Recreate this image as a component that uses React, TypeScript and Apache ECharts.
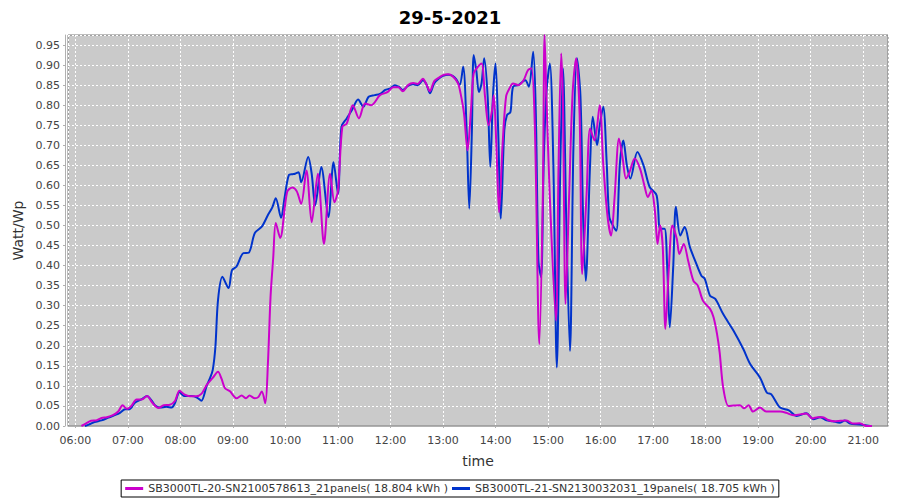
import React, { useEffect, useRef } from "react";
import * as echarts from "echarts";

const chartTitle = "29-5-2021";
const seriesNames = [
  "SB3000TL-20-SN2100578613_21panels( 18.804 kWh )",
  "SB3000TL-21-SN2130032031_19panels( 18.705 kWh )",
];
const seriesColors = ["#CC00CC", "#0033CC"];

const magentaTimes = [
  "06:07","06:12","06:18","06:24","06:30","06:36","06:43","06:49","06:54","06:59",
  "07:04","07:10","07:16","07:22","07:28","07:35","07:41","07:48","07:54","07:59",
  "08:05","08:11","08:18","08:24","08:30","08:37","08:43","08:47","08:51","08:57",
  "09:00","09:04","09:10","09:15","09:19","09:25","09:29","09:33","09:37","09:40",
  "09:43","09:46","09:49","09:54","10:02","10:08","10:13","10:18","10:24","10:30",
  "10:37","10:44","10:51","10:56","11:00","11:05","11:10","11:17","11:24","11:31",
  "11:38","11:48","11:57","12:03","12:09","12:14","12:20","12:26","12:31","12:37",
  "12:41","12:45","12:50","12:55","13:00","13:06","13:11","13:17","13:20","13:24",
  "13:28","13:32","13:35","13:40","13:44","13:48","13:52","13:56","13:58","14:01",
  "14:04","14:08","14:12","14:16","14:20","14:26","14:32","14:37","14:41","14:45",
  "14:50","14:54","14:56","14:58","15:02","15:09","15:12","15:15","15:17","15:20",
  "15:24","15:28","15:32","15:36","15:39","15:44","15:48","15:53","15:59","16:03",
  "16:08","16:12","16:16","16:21","16:25","16:29","16:33","16:39","16:45","16:50",
  "16:54","16:58","17:02","17:05","17:08","17:11","17:14","17:18","17:22","17:27",
  "17:30","17:35","17:40","17:46","17:51","17:57","18:05","18:09","18:13","18:16",
  "18:20","18:26","18:32","18:39","18:44","18:49","18:54","19:02","19:09","19:17",
  "19:25","19:32","19:40","19:48","19:55","20:02","20:08","20:14","20:20","20:26",
  "20:34","20:41","20:48","20:56","21:04","21:10",
];
const magentaValues = [
  0.000,0.006,0.013,0.014,0.020,0.022,0.027,0.036,0.052,0.043,
  0.050,0.066,0.066,0.075,0.058,0.045,0.052,0.053,0.063,0.088,
  0.078,0.074,0.074,0.080,0.102,0.120,0.135,0.118,0.094,0.086,
  0.077,0.069,0.076,0.069,0.076,0.069,0.072,0.086,0.057,0.156,
  0.322,0.417,0.506,0.469,0.584,0.595,0.585,0.554,0.637,0.508,
  0.629,0.454,0.629,0.558,0.587,0.746,0.754,0.800,0.767,0.804,
  0.800,0.825,0.833,0.845,0.845,0.835,0.850,0.855,0.853,0.866,
  0.852,0.835,0.860,0.868,0.875,0.877,0.872,0.855,0.830,0.779,
  0.687,0.790,0.879,0.896,0.904,0.821,0.750,0.787,0.825,0.696,
  0.533,0.700,0.821,0.842,0.854,0.850,0.862,0.887,0.892,0.737,
  0.204,0.571,0.975,0.829,0.571,0.263,0.654,0.929,0.800,0.304,
  0.571,0.829,0.917,0.779,0.379,0.579,0.742,0.712,0.800,0.654,
  0.521,0.475,0.571,0.717,0.671,0.617,0.633,0.667,0.642,0.600,
  0.571,0.587,0.537,0.454,0.500,0.446,0.242,0.396,0.500,0.467,
  0.429,0.454,0.412,0.362,0.350,0.312,0.292,0.271,0.229,0.183,
  0.096,0.050,0.051,0.052,0.044,0.052,0.036,0.046,0.036,0.036,
  0.036,0.033,0.027,0.029,0.031,0.019,0.022,0.022,0.015,0.012,
  0.013,0.014,0.006,0.007,0.000,0.000,
];

const blueTimes = [
  "06:11","06:16","06:22","06:30","06:38","06:45","06:51","06:57","07:02","07:08",
  "07:16","07:22","07:27","07:31","07:37","07:44","07:50","07:54","07:59","08:04",
  "08:13","08:19","08:24","08:30","08:34","08:37","08:40","08:43","08:48","08:55",
  "08:59","09:04","09:12","09:18","09:25","09:33","09:40","09:45","09:49","09:55",
  "09:59","10:04","10:08","10:11","10:15","10:18","10:26","10:30","10:34","10:41",
  "10:49","10:55","11:00","11:04","11:10","11:16","11:23","11:29","11:35","11:42",
  "11:48","11:54","12:00","12:05","12:10","12:14","12:20","12:26","12:31","12:37",
  "12:41","12:45","12:50","12:55","13:00","13:06","13:11","13:15","13:19","13:23",
  "13:27","13:30","13:33","13:35","13:38","13:41","13:44","13:47","13:51","13:54",
  "13:57","14:00","14:03","14:06","14:10","14:13","14:17","14:20","14:26","14:34",
  "14:38","14:43","14:46","14:49","14:52","14:55","14:58","15:02","15:06","15:10",
  "15:14","15:17","15:21","15:25","15:29","15:33","15:37","15:40","15:43","15:48",
  "15:51","15:56","15:59","16:03","16:07","16:10","16:15","16:18","16:22","16:26",
  "16:30","16:34","16:42","16:49","16:56","17:04","17:08","17:13","17:16","17:19",
  "17:23","17:26","17:31","17:36","17:42","17:48","17:55","17:59","18:05","18:11",
  "18:20","18:32","18:43","18:51","19:02","19:10","19:15","19:25","19:35","19:44",
  "19:55","20:03","20:11","20:18","20:25","20:33","20:39","20:45","20:56","21:08",
];
const blueValues = [
  0.000,0.004,0.010,0.014,0.021,0.027,0.033,0.042,0.042,0.058,
  0.067,0.075,0.064,0.052,0.046,0.048,0.046,0.058,0.085,0.075,
  0.075,0.071,0.063,0.100,0.120,0.140,0.197,0.314,0.372,0.344,
  0.389,0.397,0.431,0.432,0.481,0.497,0.526,0.545,0.568,0.519,
  0.569,0.626,0.628,0.629,0.633,0.608,0.671,0.629,0.550,0.646,
  0.521,0.658,0.579,0.746,0.767,0.788,0.814,0.796,0.821,0.825,
  0.828,0.838,0.842,0.850,0.845,0.838,0.848,0.852,0.850,0.862,
  0.852,0.830,0.855,0.866,0.873,0.876,0.873,0.865,0.850,0.896,
  0.737,0.542,0.737,0.925,0.887,0.833,0.854,0.917,0.821,0.646,
  0.821,0.904,0.737,0.517,0.737,0.775,0.783,0.846,0.850,0.862,
  0.846,0.933,0.779,0.412,0.371,0.654,0.829,0.904,0.654,0.146,
  0.654,0.892,0.487,0.187,0.700,0.917,0.821,0.521,0.362,0.654,
  0.771,0.700,0.750,0.796,0.654,0.521,0.496,0.487,0.654,0.712,
  0.650,0.617,0.683,0.650,0.596,0.575,0.492,0.492,0.400,0.246,
  0.400,0.547,0.475,0.496,0.446,0.412,0.375,0.367,0.325,0.317,
  0.279,0.237,0.192,0.154,0.121,0.083,0.079,0.046,0.039,0.025,
  0.032,0.017,0.022,0.014,0.012,0.008,0.014,0.006,0.004,0.000,
];

const xMin = 5.861;
const xMax = 21.471;
const yMin = 0;
const yMax = 0.975;
const yStep = 0.05;

const toHours = (t: string) => {
  const [h, m] = t.split(":").map(Number);
  return h + m / 60;
};
const pairs = (times: string[], vals: number[]) =>
  times.map((t, i) => [toHours(t), vals[i]]);

const FONT = "DejaVu Sans";

export default function App() {
  const ref = useRef<HTMLDivElement>(null);
  useEffect(() => {
    if (!ref.current) return;
    const chart = echarts.init(ref.current, undefined, { renderer: "svg" });
    chart.setOption({
      animation: false,
      backgroundColor: "#ffffff",
      title: {
        text: chartTitle,
        left: "center",
        top: 3,
        textStyle: { fontFamily: FONT, fontSize: 18, fontWeight: "bold", color: "#000" },
      },
      grid: {
        left: 68,
        right: 12,
        top: 35,
        bottom: 74,
        show: true,
        backgroundColor: "#cacaca",
        borderColor: "#7a7a7a",
        borderWidth: 1,
      },
      legend: {
        bottom: 3,
        left: "center",
        data: seriesNames,
        icon: "rect",
        itemWidth: 18,
        itemHeight: 3,
        itemGap: 4,
        borderColor: "#000",
        borderWidth: 1,
        padding: [3, 4, 3, 4],
        textStyle: { fontFamily: FONT, fontSize: 11, color: "#333" },
      },
      xAxis: {
        type: "value",
        min: xMin,
        max: xMax,
        splitNumber: 15,
        minInterval: 1,
        maxInterval: 1,
        offset: 4,
        name: "time",
        nameLocation: "middle",
        nameGap: 24,
        nameTextStyle: { fontFamily: FONT, fontSize: 14, color: "#333" },
        axisLine: { show: true, lineStyle: { color: "#b0b0b0" } },
        axisTick: { show: true, length: 2, lineStyle: { color: "#b0b0b0" } },
        axisLabel: {
          fontFamily: FONT,
          fontSize: 11,
          color: "#444",
          margin: 5,
          showMinLabel: false,
          showMaxLabel: false,
          formatter: (v: number) => {
            if (Math.abs(v - Math.round(v)) > 1e-6) return "";
            const h = Math.round(v);
            return (h < 10 ? "0" : "") + h + ":00";
          },
        },
        splitLine: { show: true, lineStyle: { color: "#ffffff", type: [2, 2], width: 1 } },
      },
      yAxis: {
        type: "value",
        min: yMin,
        max: yMax,
        interval: yStep,
        offset: 3,
        name: "Watt/Wp",
        nameLocation: "middle",
        nameGap: 38,
        nameTextStyle: { fontFamily: FONT, fontSize: 14, color: "#333" },
        axisLine: { show: true, lineStyle: { color: "#b0b0b0" } },
        axisTick: { show: true, length: 2, lineStyle: { color: "#b0b0b0" } },
        axisLabel: {
          fontFamily: FONT,
          fontSize: 11,
          color: "#444",
          margin: 5,
          showMaxLabel: false,
          formatter: (v: number) => {
            const k = v / yStep;
            if (Math.abs(k - Math.round(k)) > 1e-6) return "";
            return v.toFixed(2);
          },
        },
        splitLine: { show: true, lineStyle: { color: "#ffffff", type: [2, 2], width: 1 } },
      },
      series: [
        {
          name: seriesNames[0],
          type: "line",
          data: pairs(magentaTimes, magentaValues),
          smooth: 0.3,
          showSymbol: false,
          z: 3,
          color: seriesColors[0],
          lineStyle: { width: 2, color: seriesColors[0] },
        },
        {
          name: seriesNames[1],
          type: "line",
          data: pairs(blueTimes, blueValues),
          smooth: 0.3,
          showSymbol: false,
          z: 2,
          color: seriesColors[1],
          lineStyle: { width: 2, color: seriesColors[1] },
        },
      ],
    });
    return () => chart.dispose();
  }, []);
  return (
    <div
      ref={ref}
      style={{ position: "fixed", left: 0, top: 0, width: 900, height: 500 }}
    />
  );
}
